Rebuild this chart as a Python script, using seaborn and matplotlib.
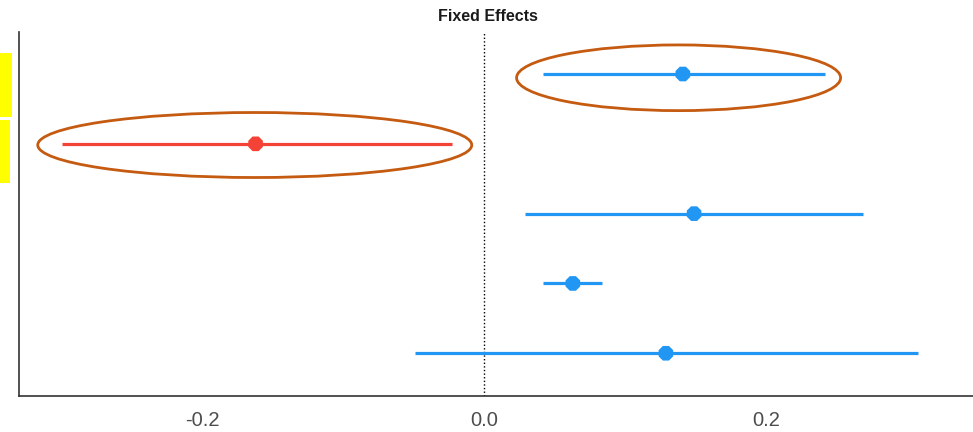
import pandas as pd
import seaborn as sns
import matplotlib.pyplot as plt
from matplotlib.patches import Ellipse, Rectangle

# Data, rows top to bottom
terms = ["t1", "t2", "t3", "t4", "t5"]
estimate = [0.141, -0.162, 0.149, 0.063, 0.129]
ci_low = [0.042, -0.299, 0.029, 0.042, -0.049]
ci_high = [0.242, -0.023, 0.269, 0.084, 0.308]
xticks = [-0.2, 0.0, 0.2]
xtick_labels = ["-0.2", "0.0", "0.2"]

df = pd.DataFrame({"term": terms, "est": estimate, "lo": ci_low, "hi": ci_high})
df["ypos"] = range(len(terms), 0, -1)
df["sign"] = ["neg" if v < 0 else "pos" for v in df["est"]]
palette = {"pos": "#2196F3", "neg": "#F44336"}

sns.set_theme(style="white")
plt.rcParams['font.family'] = ['Liberation Sans', 'DejaVu Sans']

fig = plt.figure(figsize=(9.73, 4.32), dpi=100)
ax = fig.add_axes([19 / 973, 36.5 / 432, 954 / 973, 363.8 / 432])

ax.axvline(0, color="black", linestyle=(0, (1, 1.6)), linewidth=1, zorder=1)
ax.hlines(df["ypos"], df["lo"], df["hi"],
          colors=[palette[s] for s in df["sign"]], linewidth=2.3, zorder=2)
sns.scatterplot(data=df, x="est", y="ypos", hue="sign", palette=palette,
                marker="8", s=130, edgecolor="none", legend=False, ax=ax, zorder=3)

# highlight ellipses
for cx, cy, w, h in [(0.138, 4.946, 0.2298, 0.941), (-0.1626, 3.983, 0.3078, 0.931)]:
    ax.add_patch(Ellipse((cx, cy), w, h, fill=False, edgecolor="#C55A11",
                         linewidth=2, zorder=4))

ax.set_xlim(-0.3298, 0.3468)
ax.set_ylim(0.395, 5.606)
ax.set_xticks(xticks)
ax.set_xticklabels(xtick_labels, fontsize=14.5, color="#4D4D4D")
ax.set_yticks([])
ax.set_xlabel("")
ax.set_ylabel("")
ax.tick_params(axis="x", length=0, pad=11)
for side in ["top", "right"]:
    ax.spines[side].set_visible(False)
for side in ["left", "bottom"]:
    ax.spines[side].set_color("#333333")
    ax.spines[side].set_linewidth(1.2)

fig.text(488 / 973, 1 - 16.5 / 432, "Fixed Effects", ha="center", va="center",
         fontsize=11.5, fontweight="bold", color="#1a1a1a")

# yellow label boxes at left edge
for y0, y1, w in [(53, 117, 12), (120, 183, 10)]:
    fig.patches.append(Rectangle((0, 1 - y1 / 432), w / 973, (y1 - y0) / 432,
                                 transform=fig.transFigure, facecolor="#FFFF00",
                                 edgecolor="none"))

plt.savefig("out.png", dpi=100)
